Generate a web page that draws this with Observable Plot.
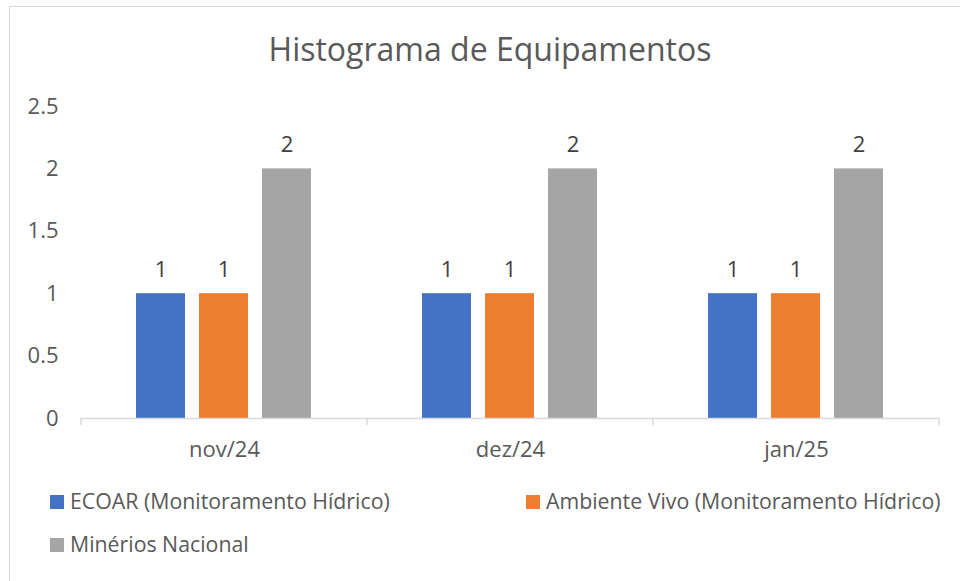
<!DOCTYPE html>
<html><head><meta charset="utf-8">
<script src="https://cdn.jsdelivr.net/npm/d3@7"></script>
<script src="https://cdn.jsdelivr.net/npm/@observablehq/plot@0.6"></script>
<style>
body{margin:0;background:#fff;font-family:"Open Sans",sans-serif;}
#wrap{position:relative;width:960px;height:581px;overflow:hidden;background:#fff;}
#frame{position:absolute;left:9px;top:6px;width:1000px;height:700px;border:1.5px solid #d9d9d9;box-sizing:border-box;}
#title{position:absolute;left:0;width:980px;top:33px;text-align:center;font-size:32px;line-height:1;color:#595959;font-weight:400;}
#chart{position:absolute;left:0;top:0;}
.leg{position:absolute;font-size:21.3px;line-height:1;color:#595959;white-space:nowrap;}
.sw{position:absolute;width:14px;height:14px;}
</style></head>
<body>
<div id="wrap">
  <div id="frame"></div>
  <div id="chart"></div>
  <div id="title"></div>
  <div id="legend"></div>
</div>
<script>
const title = "Histograma de Equipamentos";
const months = ["nov/24", "dez/24", "jan/25"];
const series = ["ECOAR (Monitoramento Hídrico)", "Ambiente Vivo (Monitoramento Hídrico)", "Minérios Nacional"];
const colors = ["#4472c4", "#ed7d31", "#a5a5a5"];
const ecoar = [1, 1, 1];
const ambienteVivo = [1, 1, 1];
const minerios = [2, 2, 2];
const yTicks = [0, 0.5, 1, 1.5, 2, 2.5];

const seriesValues = [ecoar, ambienteVivo, minerios];
const data = [];
months.forEach((m, i) => series.forEach((s, j) => data.push({month: m, series: s, value: seriesValues[j][i]})));

document.getElementById("title").textContent = title;

const plot = Plot.plot({
  width: 960,
  height: 470,
  marginLeft: 80,
  marginRight: 20,
  marginTop: 106,
  marginBottom: 52,
  style: {fontFamily: "Open Sans, sans-serif", fontSize: "22px", color: "#595959", background: "transparent"},
  fx: {domain: months, padding: 0, label: null},
  x: {domain: series, axis: null, paddingInner: 0.22, paddingOuter: 0.85},
  y: {domain: [0, 2.5], label: null},
  color: {domain: series, range: colors},
  marks: [
    Plot.barY(data, {fx: "month", x: "series", y: "value", fill: "series"}),
    Plot.ruleY([0], {stroke: "#d9d9d9", strokeWidth: 1.5}),
    Plot.text(data, {fx: "month", x: "series", y: "value", text: d => String(d.value), dy: -24, fill: "#404040", fontSize: 22}),
    Plot.axisY(yTicks, {tickSize: 0, tickPadding: 23, tickFormat: d => String(d), fontSize: 22, fill: "#595959", label: null}),
    Plot.axisFx({anchor: "bottom", tickSize: 0, tickPadding: 23, fontSize: 22, fill: "#595959", label: null})
  ]
});
document.getElementById("chart").appendChild(plot);

// boundary tick marks on the category axis, from the fx scale
const fx = plot.scale("fx");
const y0 = plot.scale("y").apply(0);
const svg = d3.select(plot);
const edges = months.map(m => fx.apply(m)).concat([fx.apply(months[months.length - 1]) + fx.bandwidth]);
edges.forEach(x => svg.append("line").attr("x1", x).attr("x2", x).attr("y1", y0).attr("y2", y0 + 7).attr("stroke", "#d9d9d9").attr("stroke-width", 1.5));

// legend
const legend = document.getElementById("legend");
const legPos = [{x: 50, y: 495}, {x: 526, y: 495}, {x: 50, y: 538}];
series.forEach((s, i) => {
  const sw = document.createElement("div");
  sw.className = "sw";
  sw.style.left = legPos[i].x + "px";
  sw.style.top = legPos[i].y + "px";
  sw.style.background = colors[i];
  legend.appendChild(sw);
  const t = document.createElement("div");
  t.className = "leg";
  t.style.left = (legPos[i].x + 20) + "px";
  t.style.top = (legPos[i].y - 5) + "px";
  t.textContent = s;
  legend.appendChild(t);
});
</script>
</body></html>
